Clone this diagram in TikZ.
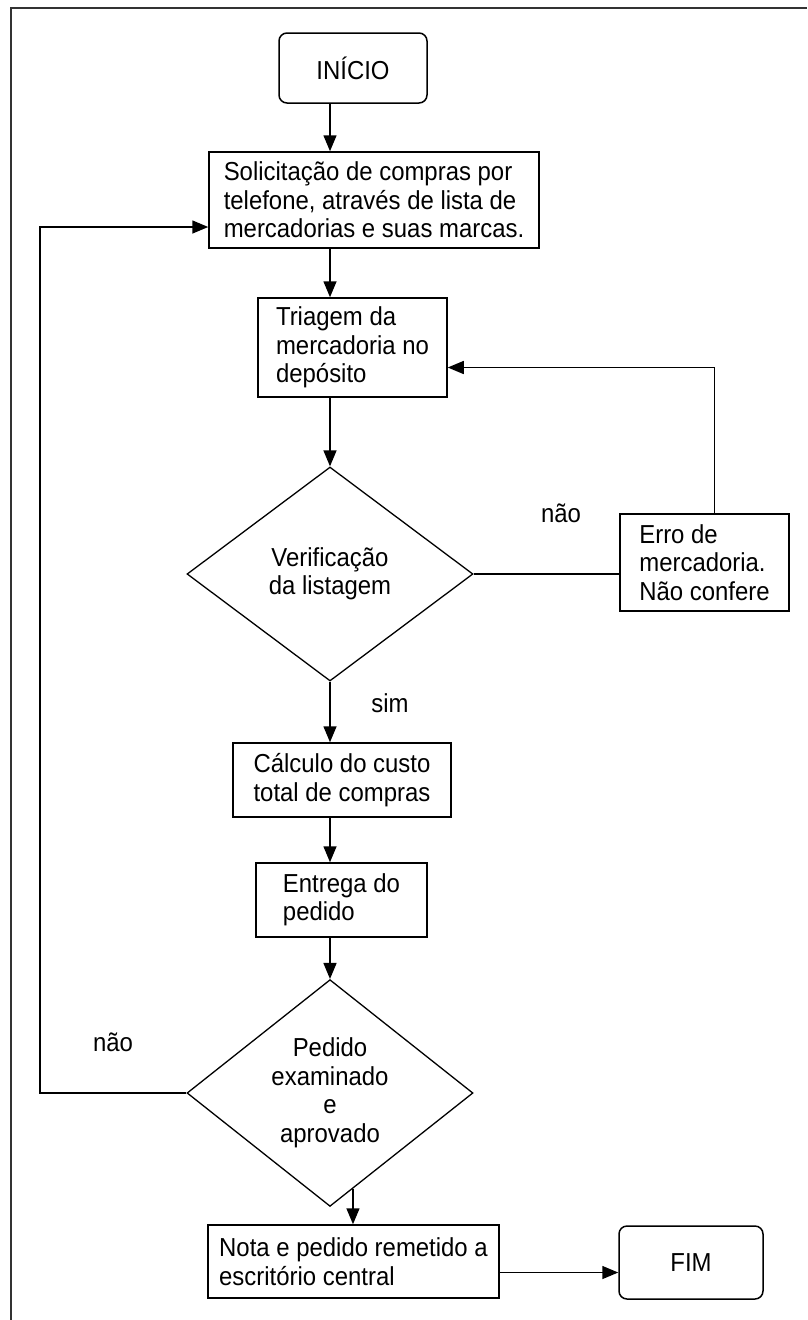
\documentclass[tikz,border=0pt]{standalone}
\usepackage{fontspec}
\setmainfont{Liberation Sans}[FakeStretch=0.92]
\usetikzlibrary{shapes.geometric,arrows.meta,calc}
\begin{document}
\begin{tikzpicture}[x=1pt,y=-1pt,
  txt/.style={font=\fontsize{26}{28.5}\selectfont},
  box/.style={txt, draw, line width=1.5pt, align=left, inner sep=0pt},
  term/.style={box, rounded corners=8pt, align=center},
  dec/.style={txt, diamond, draw, line width=1.3pt, align=center, inner sep=0pt},
  arr/.style={line width=1.5pt, -{Triangle[length=16pt,width=13pt]}},
  link/.style={line width=1.5pt},
  frame/.style={line width=2pt, draw=black!80}]
\useasboundingbox (0,0) rectangle (807,1320);
\draw[frame] (11,1320) -- (11,8) -- (807,8);

\node[term, minimum width=148pt, minimum height=70pt] (inicio) at (353,68) {INÍCIO};
\node[box, minimum width=330pt, minimum height=96pt] (sol) at (374,200)
  {Solicitação de compras por\\telefone, através de lista de\\mercadorias e suas marcas.};
\node[box, minimum width=189pt, minimum height=99pt] (tri) at (352.5,347.5)
  {Triagem da\\mercadoria no\\depósito};
\node[dec, minimum width=286pt, minimum height=214pt] (ver) at (330,574)
  {Verificação\\da listagem};
\node[box, minimum width=169pt, minimum height=97pt] (erro) at (704.5,562.5)
  {Erro de\\mercadoria.\\Não confere};
\node[box, align=center, minimum width=218pt, minimum height=74pt] (calc) at (342,780)
  {Cálculo do custo\\total de compras};
\node[box, minimum width=171pt, minimum height=74pt] (ent) at (341.5,900)
  {Entrega do\\pedido};
\node[dec, minimum width=286pt, minimum height=216pt] (ped) at (330,1093)
  {Pedido\\examinado\\e\\aprovado};
\node[box, minimum width=291pt, minimum height=73pt] (nota) at (353.5,1261.5)
  {Nota e pedido remetido a\\escritório central};
\node[term, minimum width=144pt, minimum height=73pt] (fim) at (691,1262.5) {FIM};

\node[txt] (l1) at (561,513) {não};
\node[txt] (l2) at (390,703) {sim};
\node[txt] (l3) at (113,1042) {não};

\coordinate (lp) at (40,0);
\coordinate (dn) at ($(ped.south)!0.16!(ped.east)$);

\draw[arr] (inicio.south -| ver.center) -- (sol.north -| ver.center);
\draw[arr] (sol.south -| ver.center) -- (tri.north -| ver.center);
\draw[arr] (tri.south -| ver.center) -- (ver.north);
\draw[link] (ver.east) -- (ver.east -| erro.west);
\draw[arr] ([xshift=10pt]erro.north) |- ([yshift=-20pt]tri.east);
\draw[arr] (ver.south) -- (calc.north -| ver.center);
\draw[arr] (calc.south -| ver.center) -- (ent.north -| ver.center);
\draw[arr] (ent.south -| ver.center) -- (ped.north);
\draw[arr] (ped.west) -- (ped.west -| lp) |- ([yshift=-27pt]sol.west);
\draw[arr] (dn) -- (dn |- nota.north);
\draw[arr] ([yshift=-11pt]nota.east) -- ([yshift=-11pt]nota.east -| fim.west);
\end{tikzpicture}
\end{document}
